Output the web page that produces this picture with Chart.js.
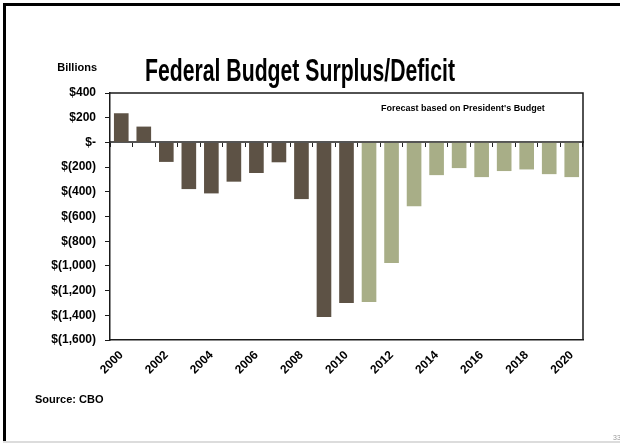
<!DOCTYPE html>
<html>
<head>
<meta charset="utf-8">
<script src="https://cdn.jsdelivr.net/npm/chart.js@4/dist/chart.umd.min.js"></script>
<style>
html,body{margin:0;padding:0;background:#fff;}
#wrap{width:620px;height:444px;}
</style>
</head>
<body>
<div id="wrap"><canvas id="c" width="620" height="444"></canvas></div>
<script>
const years = ['2000','2001','2002','2003','2004','2005','2006','2007','2008','2009','2010',
               '2011','2012','2013','2014','2015','2016','2017','2018','2019','2020'];
const actualValues   = [236, 128, -158, -378, -413, -318, -248, -161, -459, -1413, -1301,
                        null, null, null, null, null, null, null, null, null, null];
const forecastValues = [null, null, null, null, null, null, null, null, null, null, null,
                        -1293, -977, -516, -265, -208, -281, -232, -219, -257, -281];
const yMin = -1600, yMax = 400, yStep = 200;
const titleText = 'Federal Budget Surplus/Deficit';
const unitText = 'Billions';
const noteText = "Forecast based on President's Budget";
const sourceText = 'Source: CBO';
const pageText = '33';

function fmtMoney(v){
  if (v === 0) return '$-';
  const s = Math.abs(v).toLocaleString('en-US');
  return v < 0 ? '$(' + s + ')' : '$' + s;
}

const decor = {
  id: 'decor',
  beforeDraw(chart){
    const ctx = chart.ctx;
    ctx.save();
    ctx.fillStyle = '#fff';
    ctx.fillRect(0,0,chart.width,chart.height);
    ctx.restore();
  },
  afterDraw(chart){
    const ctx = chart.ctx, a = chart.chartArea;
    ctx.save();
    // plot frame
    ctx.strokeStyle = '#1a1a1a';
    ctx.lineWidth = 1.5;
    ctx.beginPath();
    ctx.moveTo(a.left, a.top); ctx.lineTo(a.right, a.top); ctx.lineTo(a.right, a.bottom);
    ctx.stroke();
    // slide border
    ctx.strokeStyle = '#000';
    ctx.lineWidth = 3;
    ctx.beginPath();
    ctx.moveTo(620, 4.5); ctx.lineTo(4.5, 4.5); ctx.lineTo(4.5, 441);
    ctx.stroke();
    ctx.strokeStyle = '#d0d0d0';
    ctx.lineWidth = 1.5;
    ctx.beginPath(); ctx.moveTo(3, 442); ctx.lineTo(620, 442); ctx.stroke();
    // title
    ctx.fillStyle = '#000';
    ctx.textBaseline = 'alphabetic';
    ctx.font = 'bold 32px "Liberation Sans Narrow", "Liberation Sans", Arial, sans-serif';
    const w = ctx.measureText(titleText).width;
    const target = 310;
    ctx.save();
    ctx.translate(145, 81);
    ctx.scale(target / w, 1);
    ctx.textAlign = 'left';
    ctx.fillText(titleText, 0, 0);
    ctx.restore();
    // unit label
    ctx.font = 'bold 11px "Liberation Sans", Arial, sans-serif';
    ctx.textAlign = 'right';
    ctx.textBaseline = 'middle';
    ctx.fillText(unitText, 97, 68);
    // note
    ctx.font = 'bold 9px "Liberation Sans", Arial, sans-serif';
    ctx.textAlign = 'left';
    ctx.fillText(noteText, 381, 109);
    // source
    ctx.font = 'bold 11px "Liberation Sans", Arial, sans-serif';
    ctx.fillText(sourceText, 35, 400);
    // page number
    ctx.font = '7px "Liberation Sans", Arial, sans-serif';
    ctx.fillStyle = '#999';
    ctx.fillText(pageText, 613, 438);
    ctx.restore();
  }
};

new Chart(document.getElementById('c'), {
  type: 'bar',
  data: {
    labels: years,
    datasets: [
      { label: 'Actual', data: actualValues, backgroundColor: '#5D5245', grouped: false,
        barPercentage: 0.65, categoryPercentage: 1.0, xAxisID: 'x' },
      { label: 'Forecast', data: forecastValues, backgroundColor: '#A8AE87', grouped: false,
        barPercentage: 0.65, categoryPercentage: 1.0, xAxisID: 'x' }
    ]
  },
  options: {
    responsive: false,
    animation: false,
    devicePixelRatio: 1,
    layout: { padding: { top: 93, right: 37, bottom: 0, left: 0 } },
    plugins: { legend: { display: false }, tooltip: { enabled: false }, title: { display: false } },
    scales: {
      x: {
        type: 'category',
        position: 'bottom',
        grid: { display: false, drawTicks: false },
        border: { display: true, color: '#1a1a1a', width: 1.5 },
        ticks: {
          autoSkip: false, maxRotation: 45, minRotation: 45, padding: 8,
          color: '#000',
          font: { family: '"Liberation Sans", Arial, sans-serif', size: 12, weight: 'bold' },
          callback: function(v, i){ return i % 2 === 0 ? this.getLabelForValue(v) : ''; }
        },
        afterFit(s){ s.height = 104; }
      },
      xZero: {
        type: 'category',
        position: { y: 0 },
        offset: true,
        grid: { display: true, offset: true, drawOnChartArea: false, drawTicks: true, tickLength: 4, color: '#222', lineWidth: 1 },
        border: { display: true, color: '#555', width: 2 },
        ticks: { display: false }
      },
      y: {
        min: yMin, max: yMax,
        grid: { display: true, drawOnChartArea: false, drawTicks: true, tickLength: 5, color: '#1a1a1a', lineWidth: 1 },
        border: { display: true, color: '#1a1a1a', width: 1.5 },
        ticks: {
          stepSize: yStep, padding: 9, color: '#000',
          font: { family: '"Liberation Sans", Arial, sans-serif', size: 12, weight: 'bold' },
          callback: v => fmtMoney(v)
        },
        afterFit(s){ s.width = 110; }
      }
    }
  },
  plugins: [decor]
});
</script>
</body>
</html>
